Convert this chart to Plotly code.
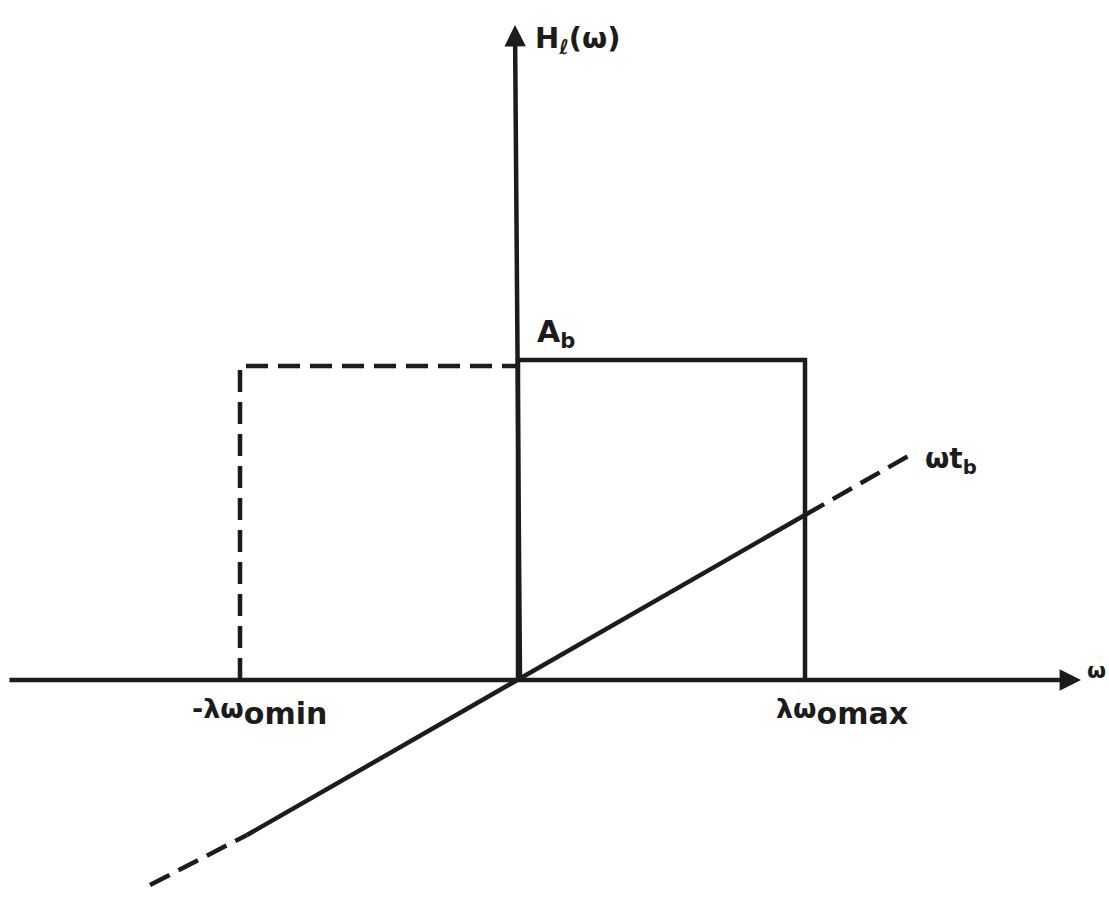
import plotly.graph_objects as go

# Ideal filter sketch: amplitude H_l(w) (rectangle) and linear phase w*t_b
# Units: one unit per pixel, origin at the crossing of the axes.
w_neg_cut = -278          # -lambda * omega_omin
w_pos_cut = 287           # lambda * omega_omax
A_b = 320                 # pass-band amplitude
A_b_mirror = 314          # mirrored (dashed) band level

phase_w = [-368, -271, 0, 287, 392]   # omega samples along the phase line
phase_v = [-205, -155, 0, 165, 225]   # omega * t_b

axis_w = [-510, 563]      # horizontal axis extent
axis_h = [0, 655]         # vertical axis extent

INK = "#1c1c1c"
FONT = "DejaVu Sans"
LW = 4.5
DASH = "22px,10px"

fig = go.Figure()

def seg(xs, ys, dash="solid"):
    fig.add_trace(go.Scatter(
        x=xs, y=ys, mode="lines", hoverinfo="skip", showlegend=False,
        line=dict(color=INK, width=LW, dash=dash)))

# solid pass band on the positive side
seg([0, 0, w_pos_cut, w_pos_cut], [0, A_b, A_b, 0])
# dashed mirrored band on the negative side
seg([w_neg_cut, w_neg_cut, 0], [0, A_b_mirror, A_b_mirror], dash=DASH)

# phase line: dashed outside the band, solid inside it
seg(phase_w[:2], phase_v[:2], dash=DASH)
seg(phase_w[1:4], phase_v[1:4])
seg(phase_w[3:], phase_v[3:], dash=DASH)

# axes with arrow heads
fig.add_annotation(x=axis_w[1], y=0, ax=axis_w[0], ay=0, axref="x", ayref="y",
                   xref="x", yref="y", text="", showarrow=True, arrowhead=2,
                   arrowsize=0.95, arrowwidth=LW, arrowcolor=INK)
fig.add_annotation(x=-3, y=axis_h[1], ax=2, ay=axis_h[0], axref="x", ayref="y",
                   xref="x", yref="y", text="", showarrow=True, arrowhead=2,
                   arrowsize=0.95, arrowwidth=LW, arrowcolor=INK)

def label(x, y, txt, size=26, xanchor="center"):
    fig.add_annotation(x=x, y=y, xref="x", yref="y", text=txt, showarrow=False,
                       xanchor=xanchor, yanchor="middle",
                       font=dict(family=FONT, size=size, color=INK))

big = "<span style='font-size:30px'>{}</span>"

label(15, 640, "<b>H<sub>ℓ</sub>(ω)</b>", size=29, xanchor="left")
label(17, 347, "<b>A<sub>b</sub></b>", size=30, xanchor="left")
label(405, 220, "<b>ωt<sub>b</sub></b>", size=28, xanchor="left")
label(-259, -32, "<b>-λω<sub>" + big.format("omin") + "</sub></b>", size=27)
label(324, -32, "<b>λω<sub>" + big.format("omax") + "</sub></b>", size=27)
label(567, 10, "<b>ω</b>", size=22, xanchor="left")

fig.update_layout(
    width=1109, height=900,
    margin=dict(l=0, r=0, t=0, b=0),
    paper_bgcolor="white", plot_bgcolor="white",
    xaxis=dict(range=[-518, 591], visible=False, fixedrange=True),
    yaxis=dict(range=[-220, 680], visible=False, fixedrange=True),
)

fig.write_html("out.html")
